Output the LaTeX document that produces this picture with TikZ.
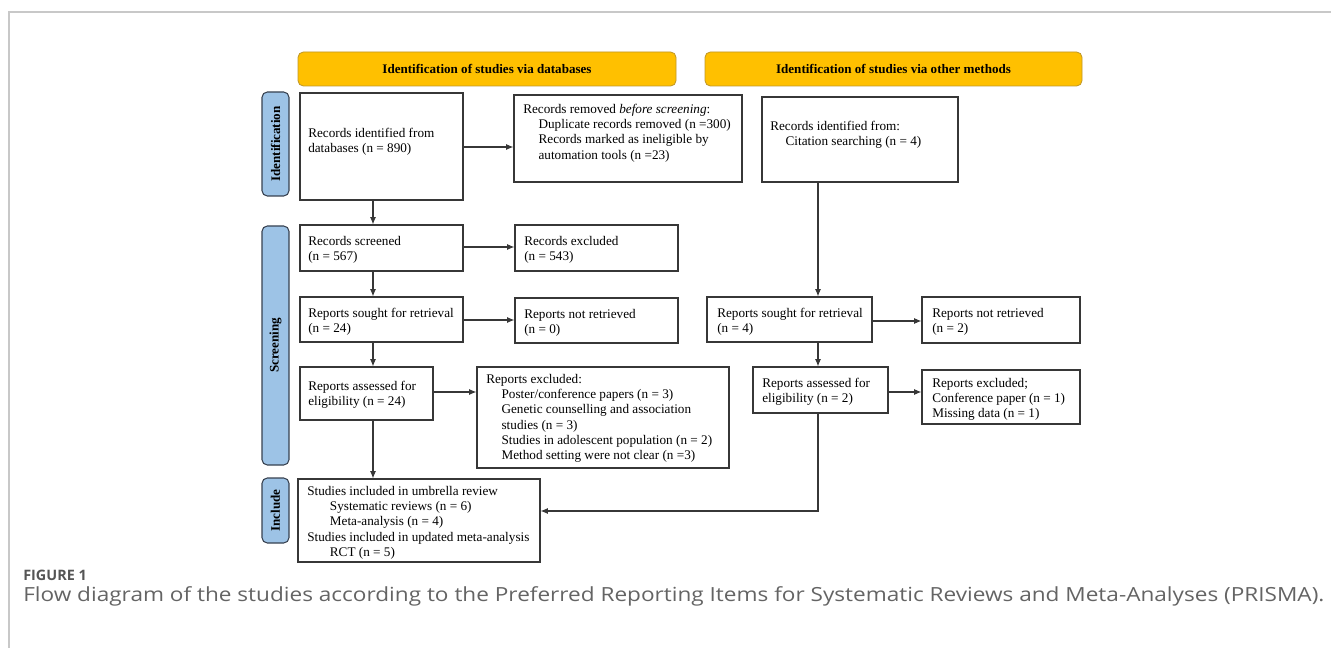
\documentclass[tikz,border=0pt]{standalone}
\usepackage{fontspec}
\setmainfont{Liberation Serif}
\newfontfamily\capfont{Open Sans}
\usetikzlibrary{arrows.meta,fit,calc}
\definecolor{linec}{RGB}{55,55,55}
\definecolor{hdrfill}{RGB}{255,192,0}
\definecolor{hdrline}{RGB}{190,150,40}
\definecolor{sidefill}{RGB}{157,195,230}
\definecolor{sideline}{RGB}{55,65,80}
\definecolor{framec}{RGB}{200,200,200}
\definecolor{capgray}{RGB}{100,100,100}
\definecolor{figgray}{RGB}{85,85,85}
\newcommand{\ind}{\hspace*{11.5pt}}
\newcommand{\indb}{\hspace*{17pt}}
\begin{document}
\begin{tikzpicture}[x=0.75pt,y=-0.75pt,
  box/.style={draw=linec, line width=0.8pt, inner sep=0pt},
  txt/.style={inner sep=0pt, align=left, anchor=north west, font=\fontsize{9.9pt}{11.4pt}\selectfont},
  hdr/.style={draw=hdrline, fill=hdrfill, rounded corners=4pt, line width=0.6pt, inner sep=0pt},
  hdrtxt/.style={inner sep=0pt, font=\bfseries\fontsize{9.8pt}{11pt}\selectfont},
  side/.style={draw=sideline, fill=sidefill, rounded corners=4pt, line width=0.8pt, inner sep=0pt},
  sidetxt/.style={inner sep=0pt, rotate=90, font=\bfseries\fontsize{9.8pt}{11pt}\selectfont},
  arr/.style={draw=linec, line width=0.8pt, -{Latex[length=5.5pt,width=4.5pt]}}]
\useasboundingbox (0,0) rectangle (1331,648);
% frame
\draw[framec, line width=0.9pt] (9,648) -- (9,12) -- (1331,12);
% headers
\node[hdr, fit={(298,52) (676,86)}] (h1) {};
\node[hdrtxt] (h1t) at (h1.center) {Identification of studies via databases};
\node[hdr, fit={(705,52) (1082,86)}] (h2) {};
\node[hdrtxt] (h2t) at (h2.center) {Identification of studies via other methods};
% side labels
\node[side, fit={(262,92) (289,196)}] (s1) {};
\node[sidetxt] (s1t) at (s1.center) {Identification};
\node[side, fit={(262,226) (289,465)}] (s2) {};
\node[sidetxt] (s2t) at (s2.center) {Screening};
\node[side, fit={(262,478) (289,543)}] (s3) {};
\node[sidetxt] (s3t) at (s3.center) {Include};
% boxes
\node[box, fit={(300,93) (463,200)}] (b1) {};
\node[txt] (t1) at (308,128) {Records identified from\\databases (n = 890)};
\node[box, fit={(514,95) (742,182)}] (b2) {};
\node[txt] (t2) at (523,104) {Records removed \textit{before screening}:\\\ind Duplicate records removed (n =300)\\\ind Records marked as ineligible by\\\ind automation tools (n =23)};
\node[box, fit={(762,97) (958,182)}] (b3) {};
\node[txt] (t3) at (770,121) {Records identified from:\\\ind Citation searching (n = 4)};
\node[box, fit={(300,225) (463,271)}] (b4) {};
\node[txt] (t4) at (308,236) {Records screened\\(n = 567)};
\node[box, fit={(515,225) (678,271)}] (b5) {};
\node[txt] (t5) at (524,236) {Records excluded\\(n = 543)};
\node[box, fit={(300,297) (463,342)}] (b6) {};
\node[txt] (t6) at (308,308) {Reports sought for retrieval\\(n = 24)};
\node[box, fit={(515,298) (678,343)}] (b7) {};
\node[txt] (t7) at (524,309) {Reports not retrieved\\(n = 0)};
\node[box, fit={(707,297) (872,342)}] (b8) {};
\node[txt] (t8) at (717,308) {Reports sought for retrieval\\(n = 4)};
\node[box, fit={(922,297) (1080,343)}] (b9) {};
\node[txt] (t9) at (932,308) {Reports not retrieved\\(n = 2)};
\node[box, fit={(300,367) (433,420)}] (b10) {};
\node[txt] (t10) at (308,381) {Reports assessed for\\eligibility (n = 24)};
\node[box, fit={(477,367) (729,468)}] (b11) {};
\node[txt] (t11) at (486,374) {Reports excluded:\\\ind Poster/conference papers (n = 3)\\\ind Genetic counselling and association\\\ind studies (n = 3)\\\ind Studies in adolescent population (n = 2)\\\ind Method setting were not clear (n =3)};
\node[box, fit={(753,367) (888,413)}] (b12) {};
\node[txt] (t12) at (762,378) {Reports assessed for\\eligibility (n = 2)};
\node[box, fit={(922,370) (1080,424)}] (b13) {};
\node[txt] (t13) at (932,378) {Reports excluded;\\Conference paper (n = 1)\\Missing data (n = 1)};
\node[box, fit={(298,479) (540,562)}] (b14) {};
\node[txt] (t14) at (307,486) {Studies included in umbrella review\\\indb Systematic reviews (n = 6)\\\indb Meta-analysis (n = 4)\\Studies included in updated meta-analysis\\\indb RCT (n = 5)};
% guide coordinates
\coordinate (cA) at (373,0);
\coordinate (cB) at (818,0);
\coordinate (r1) at (0,147);
\coordinate (r2) at (0,247);
\coordinate (r3) at (0,320);
\coordinate (r4) at (0,321);
\coordinate (r5) at (0,392);
\coordinate (r6) at (0,392);
\coordinate (r7) at (0,511);
% arrows
\draw[arr] (b1.east |- r1) -- (b2.west |- r1);
\draw[arr] (b1.south -| cA) -- (b4.north -| cA);
\draw[arr] (b4.east |- r2) -- (b5.west |- r2);
\draw[arr] (b4.south -| cA) -- (b6.north -| cA);
\draw[arr] (b6.east |- r3) -- (b7.west |- r3);
\draw[arr] (b6.south -| cA) -- (b10.north -| cA);
\draw[arr] (b10.east |- r5) -- (b11.west |- r5);
\draw[arr] (b10.south -| cA) -- (b14.north -| cA);
\draw[arr] (b3.south -| cB) -- (b8.north -| cB);
\draw[arr] (b8.east |- r4) -- (b9.west |- r4);
\draw[arr] (b8.south -| cB) -- (b12.north -| cB);
\draw[arr] (b12.east |- r6) -- (b13.west |- r6);
\draw[arr] (b12.south -| cB) |- (b14.east |- r7);
% caption
\node[anchor=west, inner sep=0pt, text=figgray, font=\capfont\bfseries\fontsize{10.8pt}{12pt}\selectfont] (fig) at (23,575) {FIGURE 1};
\node[anchor=west, inner sep=0pt, text=capgray, font=\capfont\fontsize{14.6pt}{17pt}\selectfont] (cap) at (23,596) {\scalebox{1.16}[1]{Flow diagram of the studies according to the Preferred Reporting Items for Systematic Reviews and Meta-Analyses (PRISMA).}};
\end{tikzpicture}
\end{document}
